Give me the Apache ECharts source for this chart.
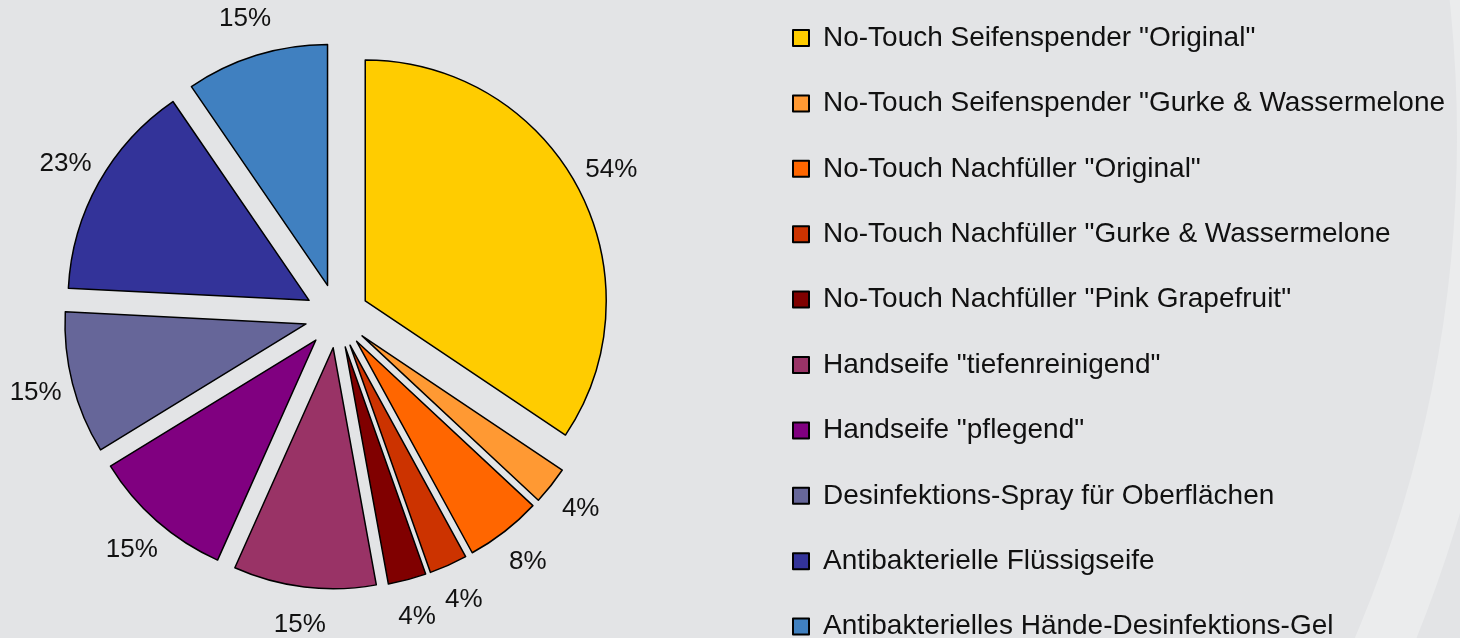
<!DOCTYPE html>
<html>
<head>
<meta charset="utf-8">
<script src="https://cdn.jsdelivr.net/npm/echarts@6/dist/echarts.min.js"></script>
<style>
  html, body { margin: 0; padding: 0; background: #e3e4e6; }
  #chart { width: 1460px; height: 638px; }
</style>
</head>
<body>
<div id="chart"></div>
<script>
const products = [
    'No-Touch Seifenspender "Original"',
    'No-Touch Seifenspender "Gurke & Wassermelone',
    'No-Touch Nachfüller "Original"',
    'No-Touch Nachfüller "Gurke & Wassermelone',
    'No-Touch Nachfüller "Pink Grapefruit"',
    'Handseife "tiefenreinigend"',
    'Handseife "pflegend"',
    'Desinfektions-Spray für Oberflächen',
    'Antibakterielle Flüssigseife',
    'Antibakterielles Hände-Desinfektions-Gel'
];
const shares = [54, 4, 8, 4, 4, 15, 15, 15, 23, 15];
const colors = ['#ffcc00', '#ff9933', '#ff6600', '#cc3300', '#800000',
    '#993366', '#800080', '#666699', '#333399', '#4080c0'];

const chart = echarts.init(document.getElementById('chart'));

const option = {
    backgroundColor: '#e3e4e6',
    animation: false,
    // light decorative arc on the right edge
    graphic: [{
        type: 'ring',
        z: -10,
        silent: true,
        shape: { cx: 178, cy: 137, r: 1336, r0: 1279 },
        style: { fill: '#ebeced' }
    }],
    legend: {
        orient: 'vertical',
        left: 787,
        top: 19,
        height: 900,
        itemWidth: 16,
        itemHeight: 16,
        itemGap: 37.4,
        icon: 'rect',
        data: products,
        textStyle: {
            fontFamily: 'Liberation Sans',
            fontSize: 28,
            lineHeight: 28,
            color: '#111',
            padding: [0, 0, 0, 9]
        }
    },
    series: [{
        type: 'pie',
        radius: 241,
        center: [337, 316],
        startAngle: 90,
        clockwise: true,
        selectedMode: 'multiple',
        selectedOffset: 32,
        avoidLabelOverlap: false,
        itemStyle: { borderColor: '#000', borderWidth: 1.5 },
        select: { itemStyle: { borderColor: '#000', borderWidth: 1.5 } },
        label: {
            show: true,
            position: 'outside',
            formatter: '{c}%',
            fontFamily: 'Liberation Sans',
            fontSize: 26,
            color: '#111',
            distanceToLabelLine: 0
        },
        labelLine: { show: false, length: 38, length2: 0 },
        labelLayout: { align: 'center', verticalAlign: 'middle' },
        data: products.map((name, i) => ({
            name: name,
            value: shares[i],
            selected: true,
            itemStyle: { color: colors[i] }
        }))
    }]
};

chart.setOption(option);
</script>
</body>
</html>
